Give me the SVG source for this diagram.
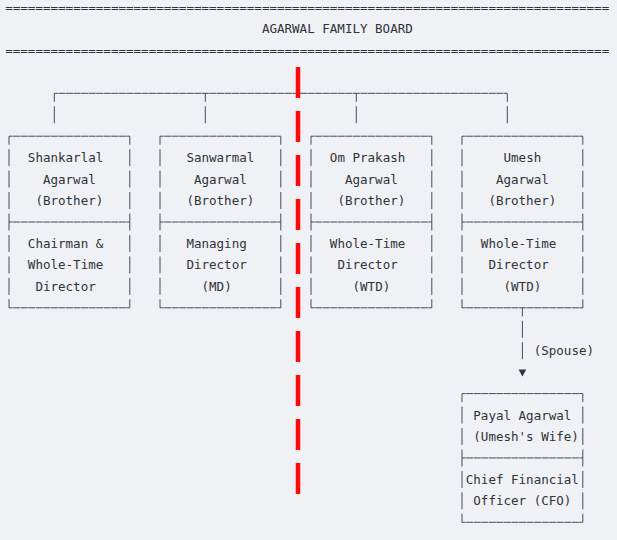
<svg xmlns="http://www.w3.org/2000/svg" width="617" height="540" viewBox="0 0 617 540">
<style>
  .t { font-family: "DejaVu Sans Mono", "Liberation Mono", monospace; font-size: 12.54px; fill: #2e3338; }
  .h { fill: none; stroke: #474b50; stroke-width: 1; stroke-dasharray: 7.1 0.45; stroke-dashoffset: 3.45; }
  .v { fill: none; stroke: #474b50; stroke-width: 1; stroke-dasharray: 17 4.45; stroke-dashoffset: 8.5; }
  .red { fill: none; stroke: #ff0a0a; stroke-width: 4.5; stroke-dasharray: 31 13; }
</style>
<defs>
  <marker id="tri" markerUnits="userSpaceOnUse" viewBox="0 -5 20 10" markerWidth="20" markerHeight="10" refX="0" refY="0" orient="auto" overflow="visible">
    <path d="M10.3,-3.8 L17.3,0 L10.3,3.8 Z" fill="#2f3337"/>
  </marker>
</defs>
<rect x="0" y="0" width="617" height="540" fill="#f0f1f5"/>

<g id="header">
  <text class="t" x="5.2" y="11.7" textLength="604" lengthAdjust="spacing">================================================================================</text>
  <text class="t" x="261.9" y="33.45">AGARWAL FAMILY BOARD</text>
  <text class="t" x="5.2" y="54.6" textLength="604" lengthAdjust="spacing">================================================================================</text>
</g>

<g id="connectors">
  <path class="h" d="M54.3,93.3 H507.3"/>
  <path class="v" d="M54.3,93.3 V123.25"/>
  <path class="v" d="M205.3,93.3 V123.25"/>
  <path class="v" d="M356.3,93.3 V123.25"/>
  <path class="v" d="M507.3,93.3 V123.25"/>
  <path class="v" d="M522.4,307.8 V359.2" marker-end="url(#tri)"/>
  <text class="t" x="533.7" y="355.2">(Spouse)</text>
</g>

<g id="shankarlal">
  <path class="h" d="M9,136.2 H129.8 M9,222 H129.8 M9,307.8 H129.8"/>
  <path class="v" d="M9,136.2 V307.8 M129.8,136.2 V307.8"/>
  <text class="t" x="27.85" y="162.15">Shankarlal</text>
  <text class="t" x="42.95" y="183.6">Agarwal</text>
  <text class="t" x="35.4" y="205.05">(Brother)</text>
  <text class="t" x="27.85" y="247.95">Chairman &amp;</text>
  <text class="t" x="27.85" y="269.4">Whole-Time</text>
  <text class="t" x="35.4" y="290.85">Director</text>
</g>

<g id="sanwarmal">
  <path class="h" d="M160,136.2 H280.8 M160,222 H280.8 M160,307.8 H280.8"/>
  <path class="v" d="M160,136.2 V307.8 M280.8,136.2 V307.8"/>
  <text class="t" x="186.4" y="162.15">Sanwarmal</text>
  <text class="t" x="193.95" y="183.6">Agarwal</text>
  <text class="t" x="186.4" y="205.05">(Brother)</text>
  <text class="t" x="186.4" y="247.95">Managing</text>
  <text class="t" x="186.4" y="269.4">Director</text>
  <text class="t" x="201.5" y="290.85">(MD)</text>
</g>

<g id="omprakash">
  <path class="h" d="M311,136.2 H431.8 M311,222 H431.8 M311,307.8 H431.8"/>
  <path class="v" d="M311,136.2 V307.8 M431.8,136.2 V307.8"/>
  <text class="t" x="329.85" y="162.15">Om Prakash</text>
  <text class="t" x="344.95" y="183.6">Agarwal</text>
  <text class="t" x="337.4" y="205.05">(Brother)</text>
  <text class="t" x="329.85" y="247.95">Whole-Time</text>
  <text class="t" x="337.4" y="269.4">Director</text>
  <text class="t" x="352.5" y="290.85">(WTD)</text>
</g>

<g id="umesh">
  <path class="h" d="M462,136.2 H582.8 M462,222 H582.8 M462,307.8 H582.8"/>
  <path class="v" d="M462,136.2 V307.8 M582.8,136.2 V307.8"/>
  <text class="t" x="503.5" y="162.15">Umesh</text>
  <text class="t" x="495.95" y="183.6">Agarwal</text>
  <text class="t" x="488.4" y="205.05">(Brother)</text>
  <text class="t" x="480.85" y="247.95">Whole-Time</text>
  <text class="t" x="488.4" y="269.4">Director</text>
  <text class="t" x="503.5" y="290.85">(WTD)</text>
</g>

<g id="payal">
  <path class="h" d="M462,393.6 H582.8 M462,457.95 H582.8 M462,522.3 H582.8"/>
  <path class="v" d="M462,393.6 V522.3 M582.8,393.6 V522.3"/>
  <text class="t" x="473.3" y="419.55">Payal Agarwal</text>
  <text class="t" x="473.3" y="441">(Umesh's Wife)</text>
  <text class="t" x="465.75" y="483.9">Chief Financial</text>
  <text class="t" x="473.3" y="505.35">Officer (CFO)</text>
</g>

<g id="separator">
  <path class="red" d="M298,67 V494"/>
</g>
</svg>
